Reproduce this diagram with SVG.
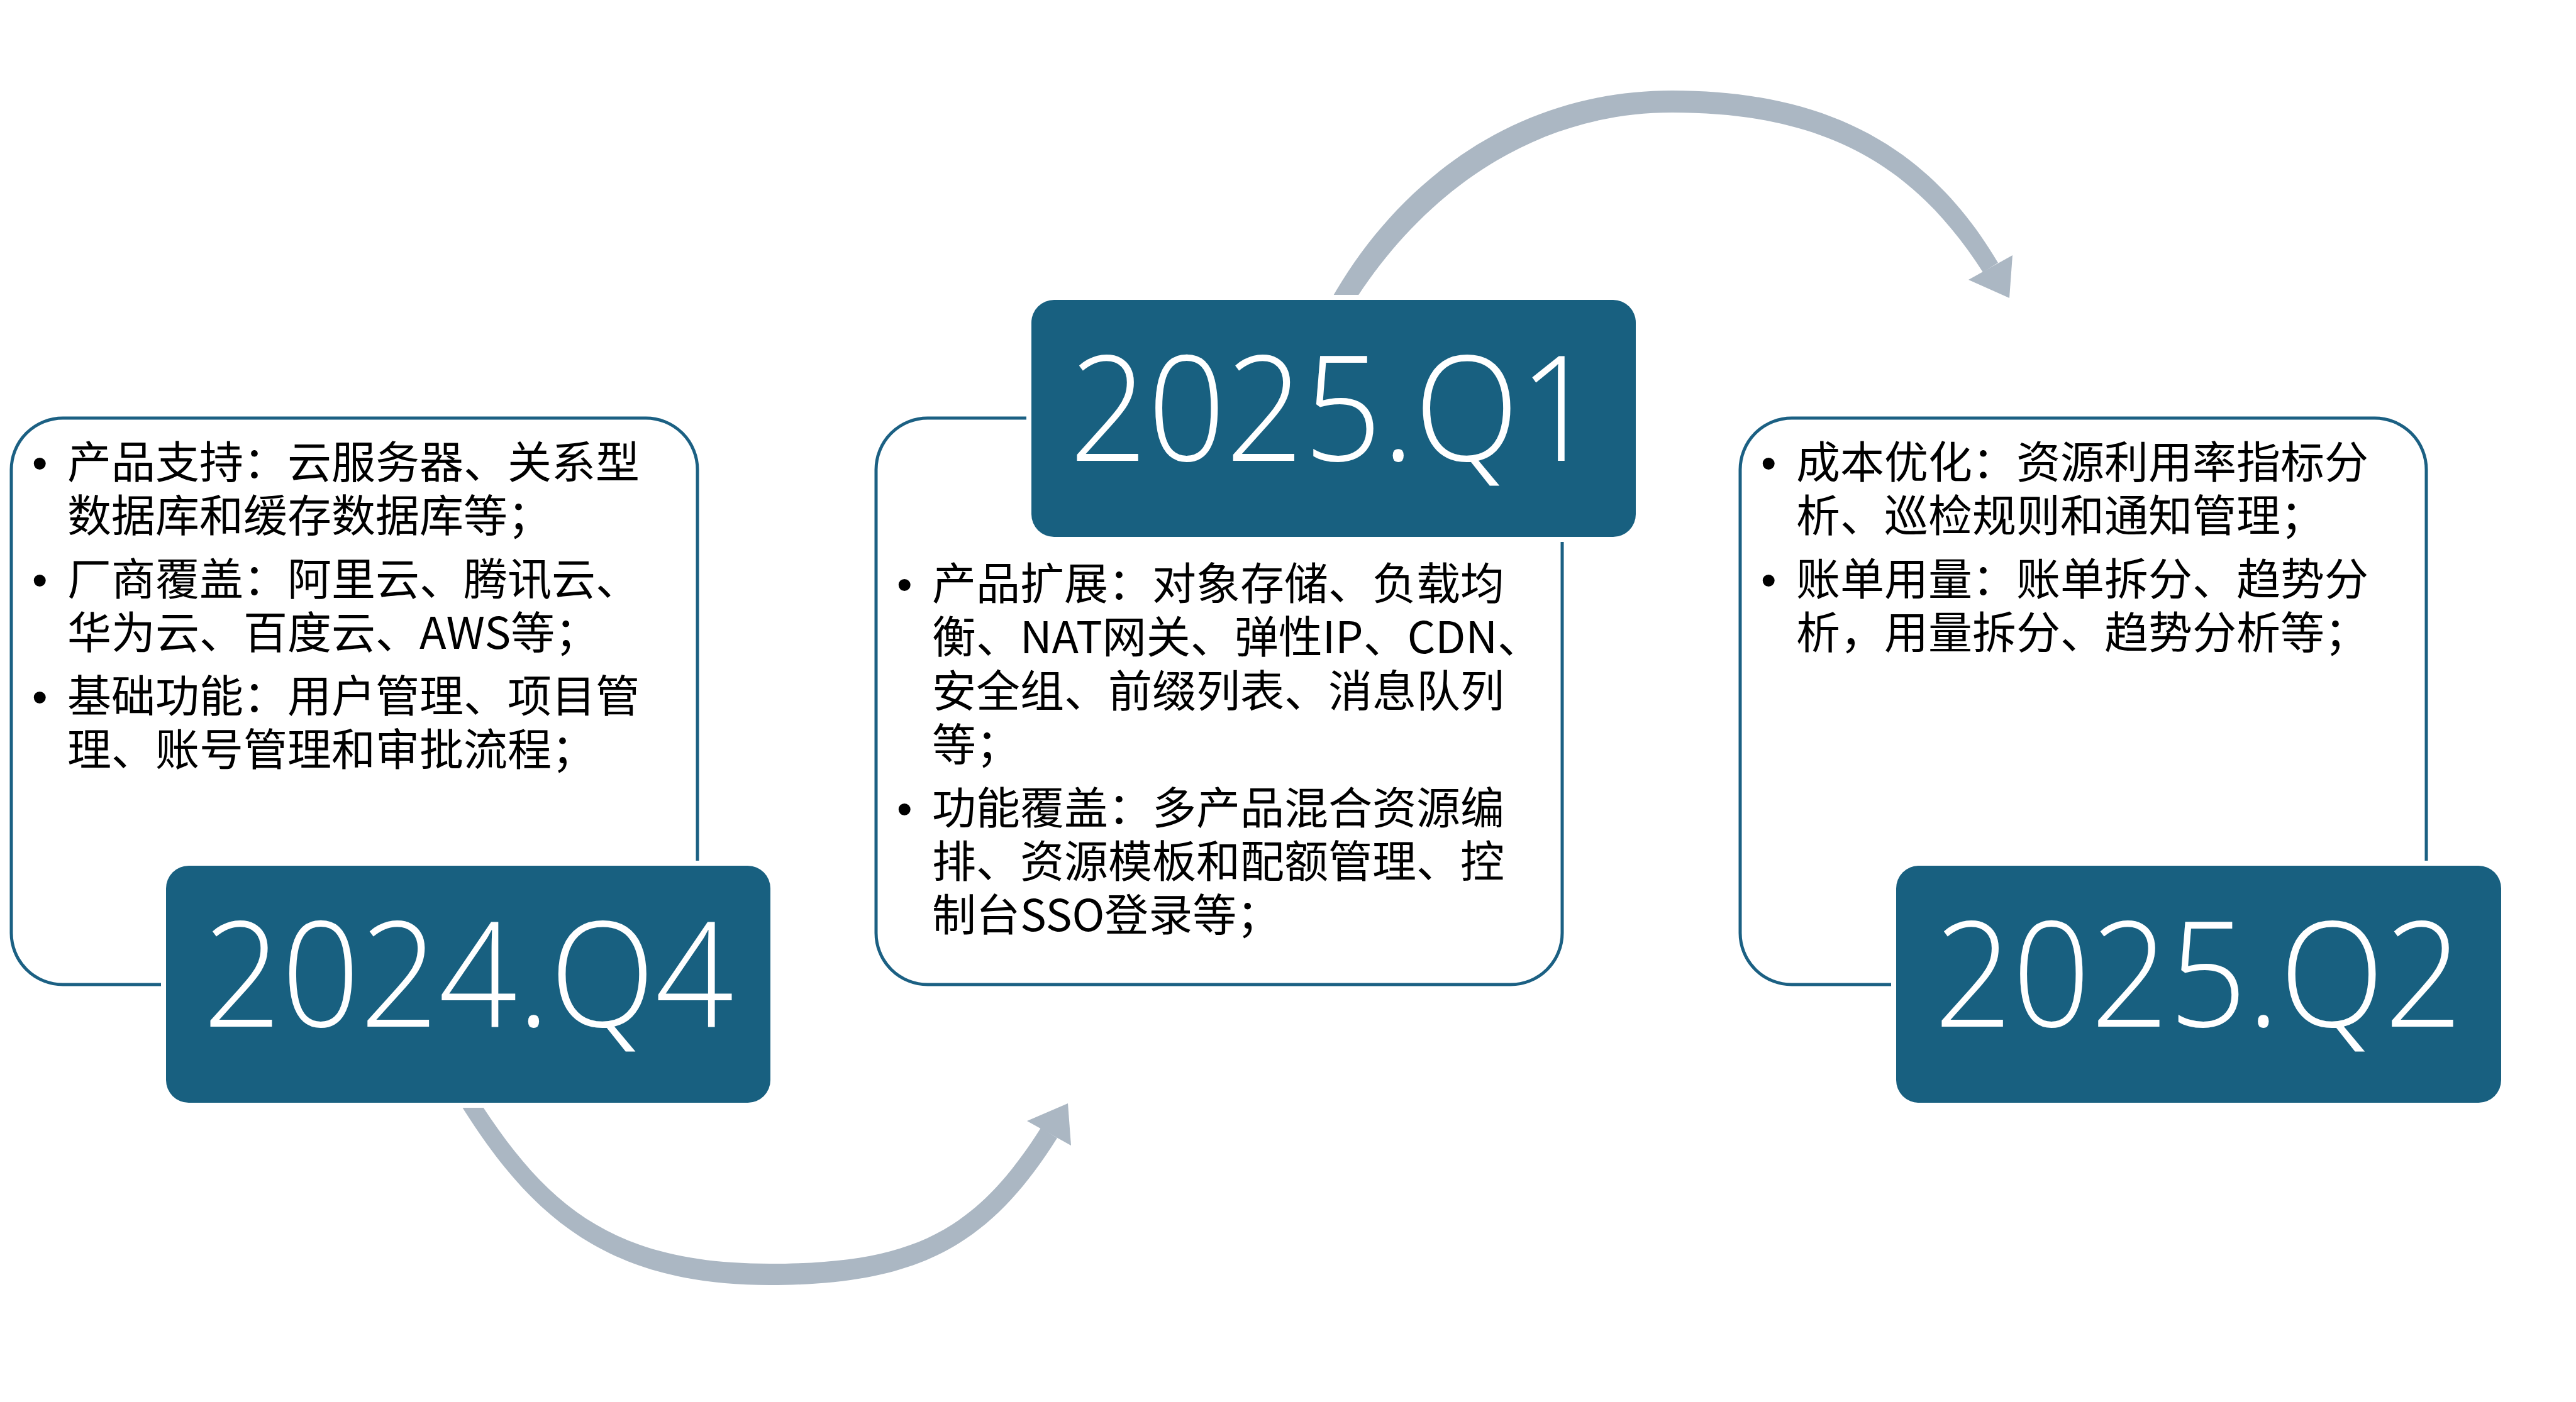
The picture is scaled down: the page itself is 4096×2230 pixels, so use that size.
<svg xmlns="http://www.w3.org/2000/svg" width="4096" height="2230" viewBox="0 0 4096 2230">
<defs>
<style>
.card{fill:#ffffff;stroke:#1B6083;stroke-width:5}
.halo{fill:#ffffff}
.tag{fill:#186080}
.year{font-family:"Open Sans","Lato","Liberation Sans",sans-serif;font-weight:300;font-size:233px;fill:#ffffff;text-anchor:middle}
.body{font-family:"Noto Sans CJK SC","Noto Sans",sans-serif;font-size:70px;fill:#000000}
.bul{font-family:"Liberation Sans",sans-serif;font-size:70px;fill:#000000}
.arc{fill:#ABB7C3;stroke:none}
.head{fill:#ABB7C3}
</style>
</defs>
<rect width="4096" height="2230" fill="#ffffff"/>
<g id="connectors">
<path class="arc" d="M730,1753 C845,1940 970,2044 1224,2044 C1462,2044 1574,1980 1681,1810 L1655,1794 C1550,1960 1450,2010 1224,2010 C978,2010 869,1922 754,1739 Z"/>
<polygon class="head" points="1698,1755 1633,1783 1703,1822"/>
<path class="arc" d="M2108,492 C2210,300 2400,144 2659,144 C2920,144 3075,245 3177,418 L3153,433 C3045,265 2905,179 2659,179 C2418,179 2240,330 2136,508 Z"/>
<polygon class="head" points="3195,474 3130,445 3200,406"/>
</g>
<g id="card-2024q4">
<rect class="card" x="18" y="665" width="1091" height="901" rx="82"/>
<text class="bul" x="51" y="761">•</text>
<text class="body" x="107" y="761">产品支持：云服务器、关系型</text>
<text class="body" x="107" y="846">数据库和缓存数据库等；</text>
<text class="bul" x="51" y="947">•</text>
<text class="body" x="107" y="947">厂商覆盖：阿里云、腾讯云、</text>
<text class="body" x="107" y="1032">华为云、百度云、AWS等；</text>
<text class="bul" x="51" y="1133">•</text>
<text class="body" x="107" y="1133">基础功能：用户管理、项目管</text>
<text class="body" x="107" y="1218">理、账号管理和审批流程；</text>
</g>
<g id="card-2025q1">
<rect class="card" x="1393" y="665" width="1091" height="901" rx="82"/>
<text class="bul" x="1426" y="954">•</text>
<text class="body" x="1482" y="954">产品扩展：对象存储、负载均</text>
<text class="body" x="1482" y="1039">衡、NAT网关、弹性IP、CDN、</text>
<text class="body" x="1482" y="1125">安全组、前缀列表、消息队列</text>
<text class="body" x="1482" y="1210">等；</text>
<text class="bul" x="1426" y="1311">•</text>
<text class="body" x="1482" y="1311">功能覆盖：多产品混合资源编</text>
<text class="body" x="1482" y="1396">排、资源模板和配额管理、控</text>
<text class="body" x="1482" y="1481">制台SSO登录等；</text>
</g>
<g id="card-2025q2">
<rect class="card" x="2767" y="665" width="1091" height="901" rx="82"/>
<text class="bul" x="2800" y="761">•</text>
<text class="body" x="2856" y="761">成本优化：资源利用率指标分</text>
<text class="body" x="2856" y="846">析、巡检规则和通知管理；</text>
<text class="bul" x="2800" y="947">•</text>
<text class="body" x="2856" y="947">账单用量：账单拆分、趋势分</text>
<text class="body" x="2856" y="1032">析，用量拆分、趋势分析等；</text>
</g>
<g id="tag-2024q4">
<rect class="halo" x="256" y="1369" width="977" height="393" rx="44"/>
<rect class="tag" x="264" y="1377" width="961" height="377" rx="36"/>
<text class="year" x="744.5" y="1633" textLength="844" lengthAdjust="spacingAndGlyphs">2024.Q4</text>
</g>
<g id="tag-2025q1">
<rect class="halo" x="1632" y="469" width="977" height="393" rx="44"/>
<rect class="tag" x="1640" y="477" width="961" height="377" rx="36"/>
<text class="year" x="2120" y="733" textLength="839" lengthAdjust="spacingAndGlyphs">2025.Q1</text>
</g>
<g id="tag-2025q2">
<rect class="halo" x="3007" y="1369" width="978" height="393" rx="44"/>
<rect class="tag" x="3015" y="1377" width="962" height="377" rx="36"/>
<text class="year" x="3495.5" y="1633" textLength="840" lengthAdjust="spacingAndGlyphs">2025.Q2</text>
</g>
</svg>
